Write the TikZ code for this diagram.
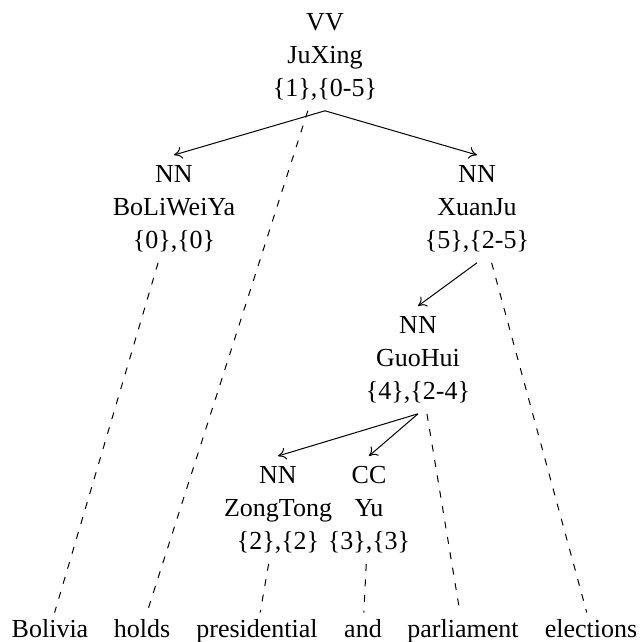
\documentclass[tikz,border=0pt]{standalone}
\usepackage{fontspec}
\setmainfont{Liberation Serif}
\usetikzlibrary{arrows.meta}

\begin{document}
\begin{tikzpicture}[x=0.5pt,y=-0.5pt,
  tag/.style={align=center, font=\fontsize{13}{16.5}\selectfont, inner sep=2pt, anchor=north},
  word/.style={anchor=base, font=\fontsize{13}{16.5}\selectfont, inner sep=3pt},
  dep/.style={-{To[length=4pt,width=6pt]}, line width=0.5pt},
  proj/.style={line width=0.5pt, dash pattern=on 3.5pt off 4.3pt}]
\path[use as bounding box] (0,0) rectangle (640,642);

% dependency tree
\node[tag] (vv) at (325,3)   {\strut VV\\\strut JuXing\\\strut\{1\},\{0-5\}};
\node[tag] (bl) at (174,155) {\strut NN\\\strut BoLiWeiYa\\\strut\{0\},\{0\}};
\node[tag] (xj) at (477,155) {\strut NN\\\strut XuanJu\\\strut\{5\},\{2-5\}};
\node[tag] (gh) at (418,306) {\strut NN\\\strut GuoHui\\\strut\{4\},\{2-4\}};
\node[tag] (zt) at (278,456) {\strut NN\\\strut ZongTong\\\strut\{2\},\{2\}};
\node[tag] (yu) at (369,456) {\strut CC\\\strut Yu\\\strut\{3\},\{3\}};

% sentence
\node[word] (w0) at (50,637)  {Bolivia};
\node[word] (w1) at (142,637) {holds};
\node[word] (w2) at (257,637) {presidential};
\node[word] (w3) at (363,637) {and};
\node[word] (w4) at (463,637) {parliament};
\node[word] (w5) at (591,637) {elections};

% head -> dependent arcs
\draw[dep] (vv.south) -- (bl.north);
\draw[dep] (vv.south) -- (xj.north);
\draw[dep] (xj.south) -- (gh.north);
\draw[dep] (gh.south) -- (zt.north);
\draw[dep] (gh.south) -- (yu.north);

% projections onto the words
\draw[proj] (bl) -- (w0);
\draw[proj] (vv) -- (w1);
\draw[proj] (zt) -- (w2);
\draw[proj] (yu) -- (w3);
\draw[proj] (gh) -- (w4);
\draw[proj] (xj) -- (w5);
\end{tikzpicture}
\end{document}
